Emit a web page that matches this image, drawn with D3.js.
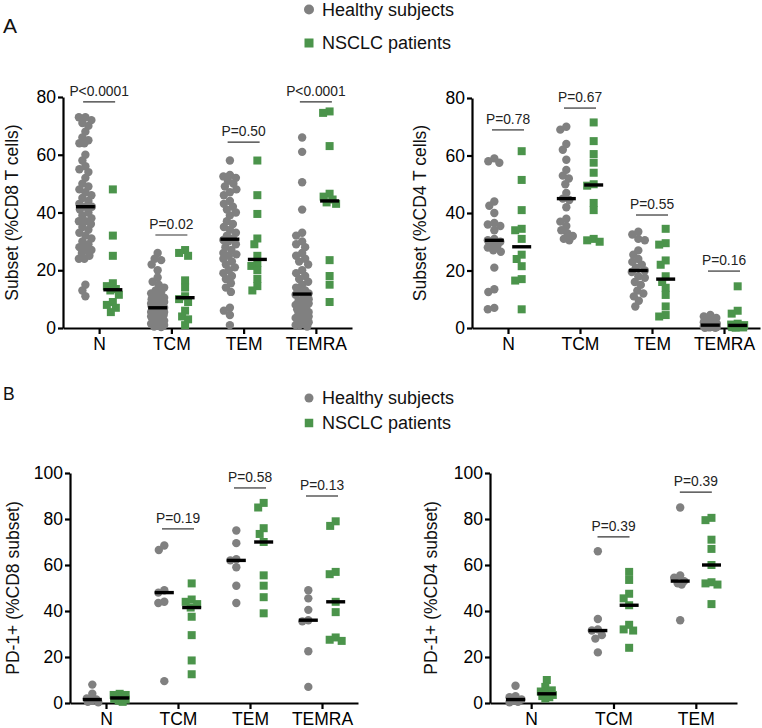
<!DOCTYPE html>
<html><head><meta charset="utf-8">
<script src="https://cdn.jsdelivr.net/npm/d3@7"></script>
<style>body{margin:0;background:#fff} svg{display:block} text{font-family:"Liberation Sans",Arial,Helvetica,sans-serif}</style>
</head><body><svg id="c" width="762" height="728"></svg>
<script>
// ---------- DATA ----------
const subsetsA = ["N","TCM","TEM","TEMRA"];
const subsetsB8 = ["N","TCM","TEM","TEMRA"];
const subsetsB4 = ["N","TCM","TEM"];
const groups = ["Healthy subjects","NSCLC patients"];
const ticksA = [0,20,40,60,80];
const ticksB = [0,20,40,60,80,100];

// Panel A, CD8 subsets (% of CD8 T cells)
const a8_N_h = [73,73,72,71,70,68,66,65,64,64,60,58,56,55,54,52,50,49,48,47,46,45,44,43,42,42,41,40,39,38,37,37,36,35,34,33,32,31,30,29,28,28,27,27,26,25,24,24,15,13,11];
const a8_N_p = [48,32,25,15.5,14.5,13.5,13,11.5,9,8,7,5.5];
const a8_TCM_h = [26,24,23.5,22,20,17.5,16,15,14,13,12.5,12,11,10.5,10,9.5,9,9,8.5,8,8,7.5,7.5,7,7,7,6.5,6.5,6,6,5.5,5.5,5,5,4.5,4.5,4,4,3.5,3.5,3,3,2.5,2,2,1.5,1,1,0.5,0.3];
const a8_TCM_p = [27,26,25,16.5,14,11,10,9,6,4,3,1];
const a8_TEM_h = [58,53,52.5,52,51,50,49,48,47,46,44,43,42,41,40,39,37,36,35,34,33,32,31,30.5,30,29,28,27,26,25.5,25,24,23,22,21,20,19,18,17,15.5,14,12.5,7,6,4.5,1];
const a8_TEM_p = [58,46,39.5,31,29,25,22.5,21.5,20,17,14.5,13];
const a8_TEMRA_h = [66,61,50.5,41,33,32,30,29,28,26,25,24,23,22,20,19,18,17,16,15,14,13,12.5,12,11.5,11,10,9.5,9,8.5,8,7.5,7,6.5,6,5.5,5,4.5,4,3.5,3,3,2.5,2,1.5,1,1,0.5];
const a8_TEMRA_p = [75,74.5,63,46.5,45.5,44.5,43.5,43,23.5,18,15,9];
const pA8 = ["P<0.0001","P=0.02","P=0.50","P<0.0001"];
const pA8at = [78.3,32.2,64.4,78.3];

// Panel A, CD4 subsets (% of CD4 T cells)
const a4_N_h = [59,58,57.5,44,42.5,40,36.5,36,35.5,34,31,30.5,30,29,28.5,28,27,26.5,21,13.5,12.5,7,6.5];
const a4_N_p = [61.5,51.5,41,34.5,34,31,25.5,24,21.5,17,16.5,6.5];
const a4_TCM_h = [70,69,64,62,58.5,55,53,52,50,47,45,44.5,42,38,37,35.5,34,33,32,31,30.5];
const a4_TCM_p = [71.5,65,60.5,57.5,54,50,49.5,43.5,41,31,30.5,30];
const a4_TEM_h = [33.5,32.5,31,30.5,27,25.5,24,23,22,21,20,19.5,18,17.5,16,15,13,12,11,9.5,7.5];
const a4_TEM_p = [34.5,29.5,29,23.5,22,18,16,14,11.5,7.5,4.5,4];
const a4_TEMRA_h = [4.5,4,3.5,3,2.5,2,1.5,1.5,1,1,1,0.8,0.7,0.6,0.5,0.4,0.3,0.3,0.2,0.1,0.1];
const a4_TEMRA_p = [14.5,6,5,1.5,1.2,1,0.8,0.6,0.4,0.3,0.2,0.1];
const pA4 = ["P=0.78","P=0.67","P=0.55","P=0.16"];
const pA4at = [68.9,76.5,39.3,19.8];

// Panel B, PD-1+ (% of CD8 subset)
const b8_N_h = [8,4,2,1.5,1,0.5,0.3];
const b8_N_p = [4,3.5,3.5,3,2.2,1.8,1.5,1,0.5];
const b8_TCM_h = [68.5,66.5,49,48,44,43.5,9.5];
const b8_TCM_p = [52,45,44,43,41.5,37.5,29.5,18.5,12.5];
const b8_TEM_h = [75,69.5,62.5,62,59,51,43.5];
const b8_TEM_p = [87,85,76,73.5,70,55.5,51,46,39];
const b8_TEMRA_h = [49,45.5,40.5,36,35.5,22.5,7];
const b8_TEMRA_p = [79,77,57,56,44,39.5,28.5,27.5,27];
const pB8 = [null,"P=0.19","P=0.58","P=0.13"];
const pB8at = [null,75.7,93.5,90];

// Panel B, PD-1+ (% of CD4 subset)
const b4_N_h = [7.5,3,2.5,1.5,1,0.5,0.3];
const b4_N_p = [10,7,5.5,5,4,3.5,3,2.5,2];
const b4_TCM_h = [66,36.5,32,31.5,29.5,28,22];
const b4_TCM_p = [57,53.5,47.5,45.5,42.5,34,32,31.5,24];
const b4_TEM_h = [85,55.5,54.5,53,52,51.5,36];
const b4_TEM_p = [80.5,79.5,71,67,60,52.5,52,51.5,43];
const pB4 = [null,"P=0.39","P=0.39"];
const pB4at = [null,72.2,91.7];

// ---------- DRAWING ----------
const svg = d3.select("#c");
const GREY = "#808080", GREEN = "#4b944b";

function swarm(vals, y, cx, D, maxW){
  const pts = vals.map(v=>({v, y:y(v)})).sort((a,b)=>d3.descending(a.v,b.v));
  const placed = [];
  const steps = Math.round(maxW/0.5)*2;
  pts.forEach(p=>{
    let best=0, bestD=-1;
    for(let k=0;k<=steps;k++){
      const o = (k%2?-1:1)*Math.ceil(k/2)*0.5;
      let md = Infinity;
      for(const q of placed){ const d=Math.hypot(q.x-(cx+o), q.y-p.y); if(d<md) md=d; }
      if(md>=D){ best=o; bestD=md; break; }
      if(md>bestD){ bestD=md; best=o; }
    }
    p.x = cx+best; placed.push(p);
  });
  return pts;
}

function panel(cfg){
  const x = d3.scalePoint().domain(cfg.cats).range([cfg.x0,cfg.x1]).padding(0.5);
  const y = d3.scaleLinear().domain([0,cfg.ymax]).range([cfg.y0,cfg.y1]);
  const off = x.step()*0.19;
  const g = svg.append("g");

  const ya = g.append("g").attr("transform",`translate(${cfg.x0},0)`)
    .call(d3.axisLeft(y).tickValues(cfg.ticks).tickSize(5).tickSizeOuter(0).tickPadding(2));
  const xa = g.append("g").attr("transform",`translate(0,${cfg.y0})`)
    .call(d3.axisBottom(x).tickSize(6).tickSizeOuter(0).tickPadding(4));
  [ya,xa].forEach(a=>{
    a.select(".domain").attr("stroke","#000").attr("stroke-width",2.2);
    a.selectAll(".tick line").attr("stroke","#000").attr("stroke-width",2.2);
    a.selectAll(".tick text").attr("fill","#000").style("font-size","17.5px");
  });

  g.append("text").attr("transform",`translate(${cfg.tx},${(cfg.y0+cfg.y1)/2}) rotate(-90)`)
    .attr("text-anchor","middle").style("font-size","17.5px").attr("fill","#111").text(cfg.title);

  cfg.cats.forEach((c,i)=>{
    const hv = cfg.healthy[i], pv = cfg.patients[i];
    const hp = swarm(hv, y, x(c)-off, cfg.D, cfg.maxW);
    const pp = swarm(pv, y, x(c)+off, cfg.D, cfg.maxW);
    g.append("g").selectAll("circle").data(hp).join("circle")
      .attr("cx",d=>d.x).attr("cy",d=>d.y).attr("r",cfg.r).attr("fill",GREY);
    g.append("g").selectAll("rect").data(pp).join("rect")
      .attr("x",d=>d.x-cfg.s/2).attr("y",d=>d.y-cfg.s/2).attr("width",cfg.s).attr("height",cfg.s).attr("fill",GREEN);
    [[hv,x(c)-off],[pv,x(c)+off]].forEach(([v,cx])=>{
      const m = d3.median(v);
      g.append("line").attr("x1",cx-9.5).attr("x2",cx+9.5).attr("y1",y(m)).attr("y2",y(m))
        .attr("stroke","#000").attr("stroke-width",3.4);
    });
    if(cfg.p[i]){
      const yy = y(cfg.pat[i]);
      g.append("line").attr("x1",x(c)-16).attr("x2",x(c)+16).attr("y1",yy).attr("y2",yy)
        .attr("stroke","#333").attr("stroke-width",1.2);
      g.append("text").attr("x",x(c)).attr("y",yy-6).attr("text-anchor","middle")
        .style("font-size","13.8px").attr("fill","#222").text(cfg.p[i]);
    }
  });
}

panel({cats:subsetsA, x0:63, x1:352, y0:328, y1:97, ymax:80, ticks:ticksA, tx:18,
  title:"Subset (%CD8 T cells)", D:6.5, maxW:6.5, r:4.2, s:8,
  healthy:[a8_N_h,a8_TCM_h,a8_TEM_h,a8_TEMRA_h], patients:[a8_N_p,a8_TCM_p,a8_TEM_p,a8_TEMRA_p],
  p:pA8, pat:pA8at});
panel({cats:subsetsA, x0:472, x1:760, y0:328, y1:98, ymax:80, ticks:ticksA, tx:426,
  title:"Subset (%CD4 T cells)", D:6.5, maxW:6.5, r:4.2, s:8,
  healthy:[a4_N_h,a4_TCM_h,a4_TEM_h,a4_TEMRA_h], patients:[a4_N_p,a4_TCM_p,a4_TEM_p,a4_TEMRA_p],
  p:pA4, pat:pA4at});
panel({cats:subsetsB8, x0:70, x1:358, y0:703, y1:473, ymax:100, ticks:ticksB, tx:19,
  title:"PD-1+ (%CD8 subset)", D:7, maxW:6, r:4.2, s:8,
  healthy:[b8_N_h,b8_TCM_h,b8_TEM_h,b8_TEMRA_h], patients:[b8_N_p,b8_TCM_p,b8_TEM_p,b8_TEMRA_p],
  p:pB8, pat:pB8at});
panel({cats:subsetsB4, x0:490, x1:737, y0:703, y1:473, ymax:100, ticks:ticksB, tx:437,
  title:"PD-1+ (%CD4 subset)", D:7, maxW:6, r:4.2, s:8,
  healthy:[b4_N_h,b4_TCM_h,b4_TEM_h], patients:[b4_N_p,b4_TCM_p,b4_TEM_p],
  p:pB4, pat:pB4at});

svg.append("text").attr("x",3).attr("y",33).style("font-size","21px").attr("fill","#111").text("A");
svg.append("text").attr("x",3).attr("y",400).style("font-size","17.5px").attr("fill","#111").text("B");

function legend(yc1, yc2, r, s){
  svg.append("circle").attr("cx",309).attr("cy",yc1).attr("r",r).attr("fill",GREY);
  svg.append("text").attr("x",322).attr("y",yc1+6).style("font-size","18px").attr("fill","#111").text(groups[0]);
  svg.append("rect").attr("x",309-s/2).attr("y",yc2-s/2).attr("width",s).attr("height",s).attr("fill",GREEN);
  svg.append("text").attr("x",322).attr("y",yc2+6).style("font-size","18px").attr("fill","#111").text(groups[1]);
}
legend(9.5, 43, 5, 9);
legend(398, 423, 4.5, 8.5);
</script></body></html>
